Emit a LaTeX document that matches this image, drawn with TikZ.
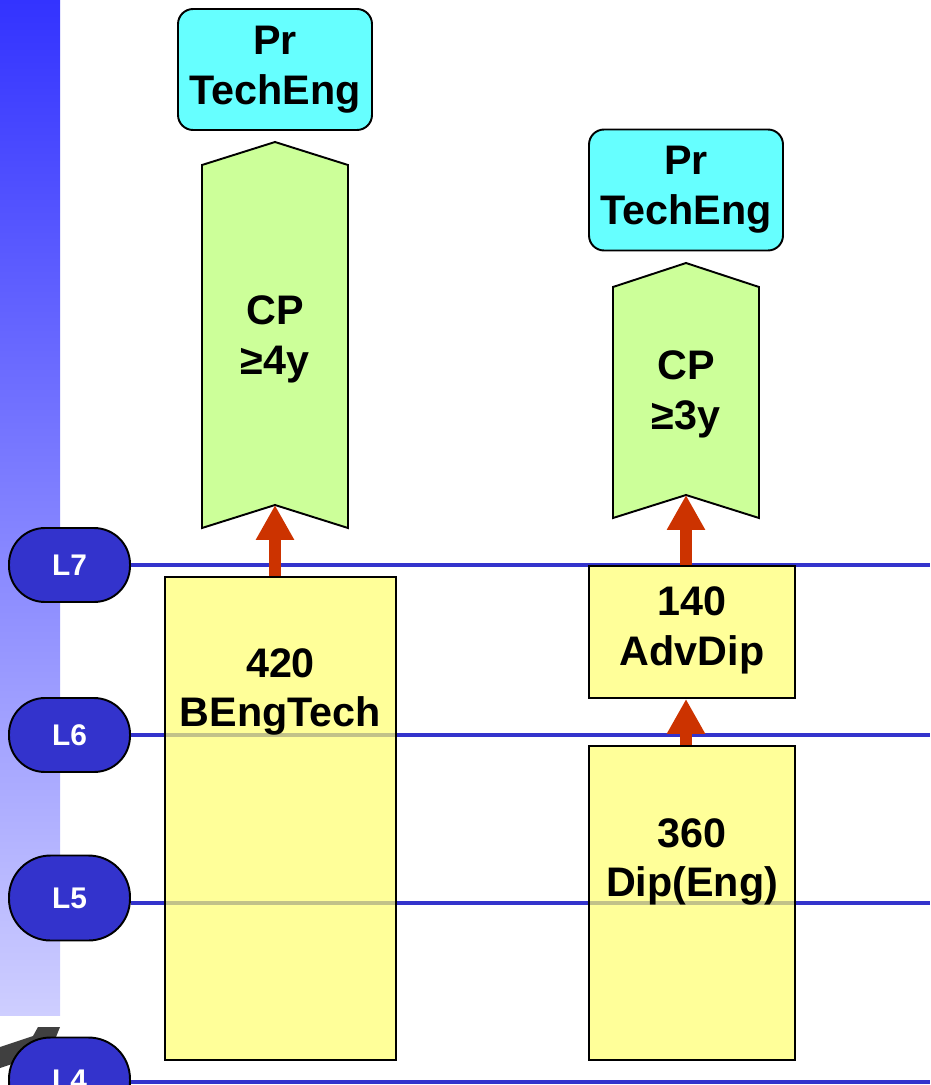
\documentclass[tikz,border=0pt]{standalone}
\usepackage{fontspec}
\setmainfont{Liberation Sans}
\usetikzlibrary{arrows.meta}
\definecolor{levelblue}{RGB}{51,51,204}
\definecolor{barTop}{RGB}{51,51,255}
\definecolor{barMid}{RGB}{160,160,255}
\definecolor{barBottom}{RGB}{206,206,255}
\definecolor{qualyellow}{RGB}{255,255,109}
\definecolor{cpgreen}{RGB}{204,255,153}
\definecolor{titlecyan}{RGB}{102,255,255}
\definecolor{progred}{RGB}{204,51,0}
\newcommand\boxfont{\fontsize{23.5}{28.4}\selectfont\bfseries}
\newcommand\levelfont{\fontsize{17}{20}\selectfont\bfseries}

\begin{document}
\begin{tikzpicture}[x=0.02cm, y=-0.02cm]
        \tikzstyle{level} = [rectangle, rounded corners=0.72cm, draw=black, line width=1.1pt, fill=levelblue, text=white, minimum width=2.42cm, minimum height=1.48cm, font=\levelfont]
        \tikzstyle{qual} = [rectangle, draw=black, line width=1.1pt, fill=qualyellow, fill opacity=0.7, text opacity=1, inner sep=0pt]
        \tikzstyle{title} = [rectangle, rounded corners=0.3cm, draw=black, line width=1.1pt, fill=titlecyan, minimum width=3.88cm, minimum height=2.42cm, align=center, font=\boxfont]
        \tikzstyle{txt} = [align=center, font=\boxfont]
        \tikzstyle{chev} = [draw=black, line width=1.1pt, fill=cpgreen]
        \tikzstyle{progress} = [line width=6.8pt, draw=progred, -{Triangle[width=20.4pt, length=19.8pt]}]
        \tikzstyle{levelline} = [line width=2.1pt, draw=levelblue]

\useasboundingbox (0,0) rectangle (930,1085);

% side bar
        \shade[top color=barTop, middle color=barMid, bottom color=barBottom] (0,0) rectangle (60,1015);
        \fill[black!75] (0,1047) -- (33,1036) -- (38,1027) -- (60,1027) -- (54,1042) -- (18,1062) -- (0,1068) -- cycle;

% levels
        \node[level] (L7) at (69.5,565) {L7};
        \node[level] (L6) at (69.5,735) {L6};
        \node[level, minimum height=1.7cm, rounded corners=0.83cm] (L5) at (69.5,898) {L5};
        \node[level, minimum height=1.7cm, rounded corners=0.83cm] (L4) at (69.5,1080) {L4};

\coordinate (L7end) at (930,565);
        \coordinate (L6end) at (930,735);
        \coordinate (L5end) at (930,903);
        \coordinate (L4end) at (930,1082);
        \draw[levelline] (L7.east |- L7end) -- (L7end);
        \draw[levelline] (L6.east |- L6end) -- (L6end);
        \draw[levelline] (L5.east |- L5end) -- (L5end);
        \draw[levelline] (L4.east |- L4end) -- (L4end);

% qualifications
        \node[qual, minimum width=4.62cm, minimum height=9.66cm] (bengtech) at (280.5,818.5) {};
        \node[txt] at (280.5,692) {420\\BEngTech};
        \node[qual, minimum width=4.12cm, minimum height=2.64cm] (advdip) at (692,632) {};
        \node[txt] at (692,630) {140\\AdvDip};
        \node[qual, minimum width=4.12cm, minimum height=6.28cm] (dipeng) at (692,903) {};
        \node[txt] at (692,862) {360\\Dip(Eng)};

% competence periods
        \draw[chev] (202,165) -- (275,142) -- (348,165) -- (348,528) -- (275,505) -- (202,528) -- cycle;
        \coordinate (cp4) at (275,505);
        \node[txt] at (275,339) {CP\\≥4y};
        \draw[chev] (613,287) -- (686,263) -- (759,287) -- (759,518) -- (686,495) -- (613,518) -- cycle;
        \coordinate (cp3) at (686,495);
        \node[txt] at (686,394) {CP\\≥3y};

% registration
        \node[title] (prtech1) at (275,69.5) {Pr\\TechEng};
        \node[title] (prtech2) at (686,190) {Pr\\TechEng};

\draw[progress] (bengtech.north -| cp4) -- (cp4);
        \draw[progress] (advdip.north -| cp3) -- (cp3);
        \draw[progress] (dipeng.north -| cp3) -- (advdip.south -| cp3);

    \end{tikzpicture}
\end{document}
